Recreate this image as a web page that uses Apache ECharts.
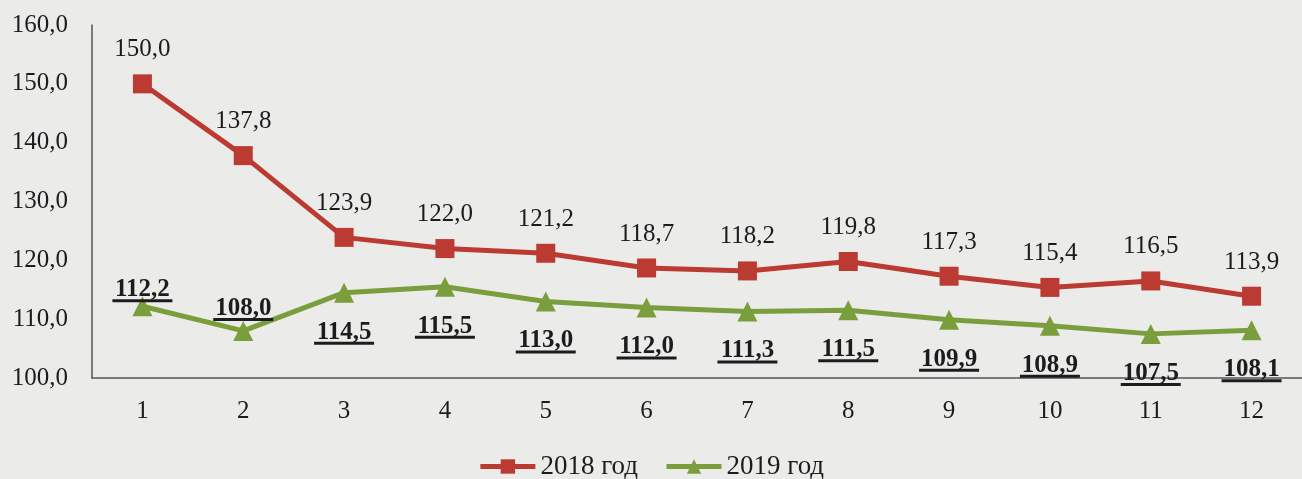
<!DOCTYPE html>
<html>
<head>
<meta charset="utf-8">
<script src="https://cdn.jsdelivr.net/npm/echarts@6/dist/echarts.min.js"></script>
<style>
  html, body { margin: 0; padding: 0; background: #ebebea; }
  #chart { width: 1302px; height: 479px; }
</style>
</head>
<body>
<div id="chart"></div>
<script>
var months = ['1', '2', '3', '4', '5', '6', '7', '8', '9', '10', '11', '12'];
var data2018 = [150.0, 137.8, 123.9, 122.0, 121.2, 118.7, 118.2, 119.8, 117.3, 115.4, 116.5, 113.9];
var data2019 = [112.2, 108.0, 114.5, 115.5, 113.0, 112.0, 111.3, 111.5, 109.9, 108.9, 107.5, 108.1];
var seriesNames = ['2018 год', '2019 год'];

function fmt(v) {
  return v.toFixed(1).replace('.', ',');
}

var font = 'Liberation Serif';
var ink = '#1c1c1c';

// 2019: первые две подписи над точкой (с наложением), остальные под ней
var data2019Items = data2019.map(function (v, i) {
  return {
    value: v,
    label: { position: i < 2 ? 'top' : 'bottom', distance: i === 0 ? -6 : (i === 1 ? 0 : 20) }
  };
});

var myChart = echarts.init(document.getElementById('chart'));
myChart.setOption({
  backgroundColor: '#ebebea',
  textStyle: { fontFamily: font },
  grid: { left: 92, right: -11, top: 25, bottom: 101 },
  legend: {
    top: 448,
    left: 'center',
    itemWidth: 55,
    itemHeight: 18,
    itemGap: 26,
    lineStyle: { width: 5 },
    textStyle: { fontFamily: font, fontSize: 27, color: ink },
    data: seriesNames
  },
  xAxis: {
    type: 'category',
    data: months,
    axisLine: { show: true, lineStyle: { color: '#555', width: 1.5 } },
    axisTick: { show: false },
    axisLabel: { fontFamily: font, fontSize: 25, color: ink, margin: 21 }
  },
  yAxis: {
    type: 'value',
    min: 100,
    max: 160,
    interval: 10,
    axisLine: { show: true, lineStyle: { color: '#555', width: 1.5 } },
    axisTick: { show: false },
    splitLine: { show: false },
    axisLabel: {
      fontFamily: font, fontSize: 25, color: ink, margin: 24,
      formatter: function (v) { return fmt(v); }
    }
  },
  series: [
    {
      name: seriesNames[0],
      type: 'line',
      data: data2018,
      symbol: 'rect',
      symbolSize: 19,
      color: '#bb3b32',
      lineStyle: { width: 5, color: '#bb3b32' },
      itemStyle: { color: '#bb3b32' },
      label: {
        show: true,
        position: 'top',
        distance: 12,
        fontFamily: font,
        fontSize: 25,
        color: ink,
        formatter: function (p) { return fmt(p.value); }
      }
    },
    {
      name: seriesNames[1],
      type: 'line',
      data: data2019Items,
      symbol: 'triangle',
      symbolSize: 20,
      color: '#7a9e3c',
      lineStyle: { width: 5, color: '#7a9e3c' },
      itemStyle: { color: '#7a9e3c' },
      label: {
        show: true,
        formatter: function (p) { return '{v|' + fmt(p.value) + '}\n{u|}'; },
        rich: {
          v: { fontFamily: font, fontSize: 25, fontWeight: 'bold', color: ink, lineHeight: 19 },
          u: { width: 60, height: 3, backgroundColor: ink, lineHeight: 3 }
        }
      }
    }
  ]
});
</script>
</body>
</html>
